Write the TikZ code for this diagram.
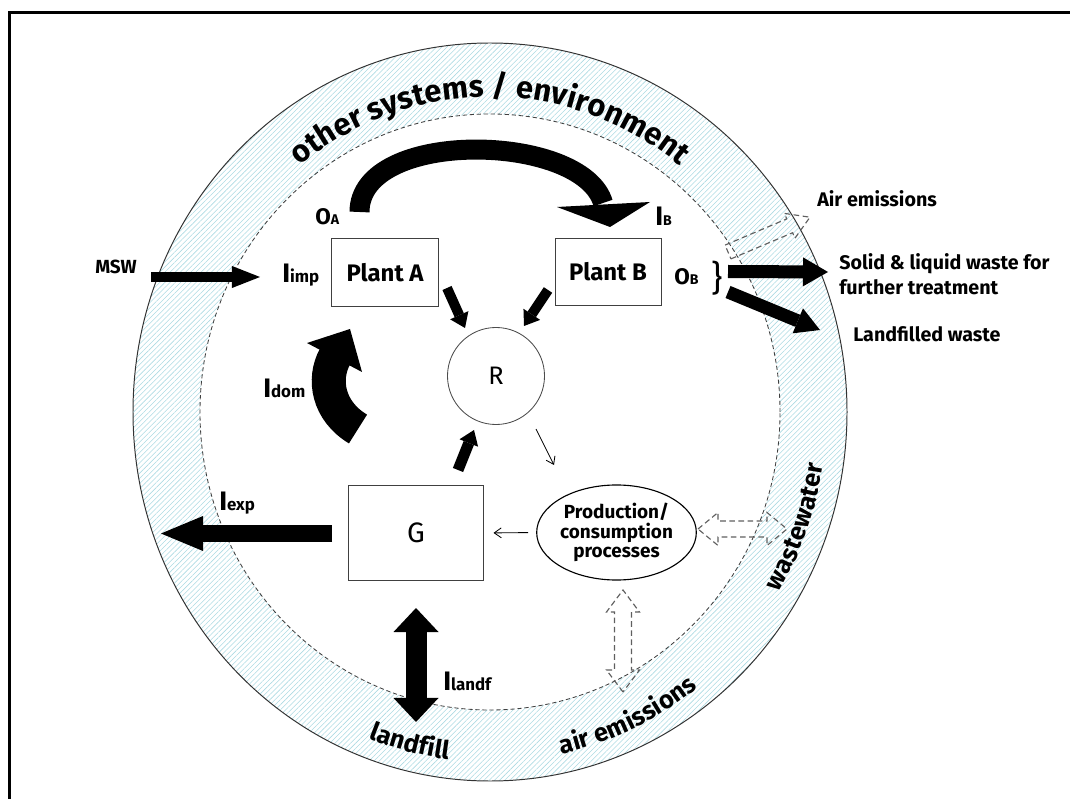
\documentclass[tikz,border=0pt]{standalone}
\usepackage{fontspec}
\setmainfont{Fira Sans}
\usetikzlibrary{arrows.meta,shapes.geometric,patterns.meta,decorations.text}
\definecolor{hatch}{RGB}{172,218,226}
\definecolor{dashgray}{RGB}{95,95,95}
\newcommand{\flowlbl}[4]{{\fontsize{#1}{#1}\selectfont #3}{\fontsize{#2}{#2}\selectfont #4}}
\tikzset{
	box/.style={draw=black!75, line width=0.7pt, inner sep=0pt,
			font=\fontsize{17}{17}\selectfont\bfseries},
	lbl/.style={inner sep=0pt, font=\fontsize{14}{18}\selectfont\bfseries},
	flow/.style n args={3}{line width=#1,
			-{Triangle[width=#2, length=#3, line width=0pt]}},
	flowtwo/.style n args={3}{line width=#1,
			{Triangle[width=#2, length=#3, line width=0pt]}-{Triangle[width=#2, length=#3, line width=0pt]}},
	thinflow/.style={line width=0.6pt, -{Straight Barb[length=5pt, width=7pt]}},
	hollow/.style={draw=dashgray, line width=0.8pt, dash pattern=on 4pt off 2.5pt, line join=miter},
	% length / half shaft / half head / head length
	pics/hollowone/.style args={#1/#2/#3/#4}{code={
				\draw[hollow] (0,-#2) -- (#1-#4,-#2) -- (#1-#4,-#3) -- (#1,0)
				-- (#1-#4,#3) -- (#1-#4,#2) -- (0,#2) -- cycle;}},
	pics/hollowtwo/.style args={#1/#2/#3/#4}{code={
				\draw[hollow] (-#1,0) -- (-#1+#4,#3) -- (-#1+#4,#2) -- (#1-#4,#2) -- (#1-#4,#3) -- (#1,0)
				-- (#1-#4,-#3) -- (#1-#4,-#2) -- (-#1+#4,-#2) -- (-#1+#4,-#3) -- cycle;}}
}

\begin{document}
\begin{tikzpicture}[x=0.025cm, y=0.025cm]
	\useasboundingbox (0,0) rectangle (1070,-799);
	% Frame
	\draw[line width=1.9pt] (9.7,-799) -- (9.7,-12.8) -- (1070,-12.8);

	% Environment ring
	\coordinate (ctr) at (490,-412);
	\fill[pattern={Lines[angle=45, distance=2.6pt, line width=0.4pt]}, pattern color=hatch, even odd rule]
		(ctr) ellipse [x radius=357, y radius=369] (ctr) ellipse [x radius=290, y radius=298];
	\draw[line width=0.7pt, black!80] (ctr) ellipse [x radius=357, y radius=369];
	\draw[line width=0.6pt, black!75, dash pattern=on 3pt off 2pt] (ctr) ellipse [x radius=290, y radius=298];

	% Ring labels
	\path[decorate, decoration={text along path, text align=center,
			text={|\fontsize{22}{22}\selectfont\bfseries|other systems / environment}}]
		([shift={(170:305 and 315)}]ctr) arc[start angle=170, end angle=10, x radius=305, y radius=315];
	\path[decorate, decoration={text along path, text align=center,
			text={|\fontsize{18}{18}\selectfont\bfseries|landfill}}]
		([shift={(226:337 and 350)}]ctr) arc[start angle=226, end angle=286, x radius=337, y radius=350];
	\path[decorate, decoration={text along path, text align=center,
			text={|\fontsize{18}{18}\selectfont\bfseries|air emissions}}]
		([shift={(265:337 and 350)}]ctr) arc[start angle=265, end angle=325, x radius=337, y radius=350];
	\path[decorate, decoration={text along path, text align=center,
			text={|\fontsize{18}{18}\selectfont\bfseries|wastewater}}]
		([shift={(310:337 and 350)}]ctr) arc[start angle=310, end angle=370, x radius=337, y radius=350];

	% Main nodes
	\node[box, minimum width=2.65cm, minimum height=1.675cm] (plantA) at (385,-272.5) {Plant A};
	\node[box, minimum width=2.65cm, minimum height=1.65cm] (plantB) at (608,-272) {Plant B};
	\node[circle, draw=black!70, line width=0.6pt, minimum size=2.425cm, inner sep=0pt,
		font=\fontsize{18}{18}\selectfont] (R) at (496,-376) {R};
	\node[box, minimum width=3.35cm, minimum height=2.35cm,
		font=\fontsize{20}{20}\selectfont] (G) at (416,-533) {G};
	\node[ellipse, draw=black, line width=0.8pt, minimum width=3.575cm, minimum height=2.375cm,
		inner sep=0pt, align=center, font=\fontsize{13.5}{14}\selectfont\bfseries]
		(prod) at (616.5,-532.5) {Production/\\consumption\\processes};

	% Flow labels
	\node[lbl, anchor=base west] (iimp) at (282,-283) {\flowlbl{19}{12}{I}{imp}};
	\node[lbl, anchor=base west] (idom) at (263,-398) {\flowlbl{19}{12}{I}{dom}};
	\node[lbl, anchor=base west] (iexp) at (219,-510) {\flowlbl{19}{12}{I}{exp}};
	\node[lbl, anchor=base west] (ilandf) at (443,-690) {\flowlbl{19}{12}{I}{landf}};
	\node[lbl, anchor=base west] (oA) at (315,-225) {\flowlbl{16}{10}{O}{A}};
	\node[lbl, anchor=base west] (iB) at (655,-226) {\flowlbl{19}{10}{I}{B}};
	\node[lbl, anchor=base west] (oB) at (674,-285) {\flowlbl{16}{10}{O}{B}};
	\node[inner sep=0pt, font=\fontsize{25}{25}\selectfont] (brace) at (717,-278) {\}};

	% Outside labels
	\node[lbl, anchor=base west, font=\fontsize{13.5}{13.5}\selectfont\bfseries] (msw) at (95,-274) {MSW};
	\node[lbl, anchor=base west] (airlbl) at (817,-207) {Air emissions};
	\node[lbl, anchor=north west, align=left] (sollbl) at (839,-253) {Solid \& liquid waste for\\further treatment};
	\node[lbl, anchor=base west] (lflbl) at (853,-342) {Landfilled waste};

	% Transfer from A to B
	\coordinate (arcS) at (359.5,-212);
	\coordinate (arcB) at (603.5,-204.5);
	\coordinate (arcE) at (610,-227);
	\draw[line width=0.5cm] (arcS) .. controls (359.5,-128) and (582.5,-132.5) .. ([shift={(-0.5,1.5)}]arcB);
	\fill (557,-207) -- (arcE) -- (650,-202) -- cycle;

	% Domestic input
	\coordinate (domS) at (358,-429);
	\coordinate (domB) at (334.5,-357.5);
	\coordinate (domE) at (350,-329);
	\draw[line width=0.85cm] (domS) .. controls (328,-411) and (322.5,-379.5) .. ([shift={(0.5,1)}]domB);
	\fill (307,-343) -- (domE) -- (362,-372) -- cycle;

	% Straight block arrows
	\coordinate (mswS) at (151,-277);
	\coordinate (mswE) at (260,-277);
	\draw[flow={0.25cm}{0.55cm}{0.7cm}] (mswS) -- (mswE);

	\coordinate (expS) at (332,-533.5);
	\coordinate (expE) at (161,-533.5);
	\draw[flow={0.425cm}{0.875cm}{1.05cm}] (expS) -- (expE);

	\coordinate (lfT) at (416,-608);
	\coordinate (lfB) at (416,-722);
	\draw[flowtwo={0.525cm}{1.125cm}{0.6cm}] (lfT) -- (lfB);

	\coordinate (aR1) at (447,-288);
	\coordinate (aR2) at (465,-328);
	\draw[flow={0.25cm}{0.5cm}{0.35cm}] (aR1) -- (aR2);
	\coordinate (bR1) at (548,-290);
	\coordinate (bR2) at (524,-326);
	\draw[flow={0.25cm}{0.5cm}{0.35cm}] (bR1) -- (bR2);
	\coordinate (gR1) at (458,-470);
	\coordinate (gR2) at (474,-430);
	\draw[flow={0.275cm}{0.5cm}{0.35cm}] (gR1) -- (gR2);

	\coordinate (sw1) at (728,-271.5);
	\coordinate (sw2) at (828,-272);
	\draw[flow={0.325cm}{0.725cm}{0.625cm}] (sw1) -- (sw2);
	\coordinate (lw1) at (728,-292);
	\coordinate (lw2) at (820,-330);
	\draw[flow={0.325cm}{0.675cm}{0.6cm}] (lw1) -- (lw2);

	% Thin arrows
	\coordinate (rp1) at (536,-429);
	\coordinate (rp2) at (554,-465);
	\draw[thinflow] (rp1) -- (rp2);
	\draw[thinflow, shorten <=0.2cm, shorten >=0.25cm] (prod.west) -- (G.east);

	% Hollow arrows
	\pic[rotate=23] (airout) at (728,-252) {hollowone=89/7.5/13.5/22};
	\pic[rotate=90] (airex) at (623,-641) {hollowtwo=51/8.5/16.5/22};
	\pic (wwex) at (742.5,-529) {hollowtwo=44.5/8/16.5/20};
\end{tikzpicture}
\end{document}
